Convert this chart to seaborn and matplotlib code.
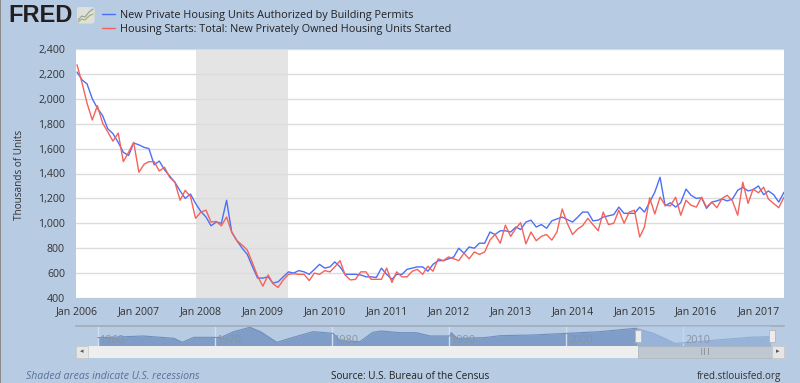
import pandas as pd
import numpy as np
import matplotlib
matplotlib.use('Agg')
import matplotlib.pyplot as plt
from matplotlib.lines import Line2D
from matplotlib.patches import Rectangle, FancyBboxPatch
import seaborn as sns

permits = [2215, 2150, 2120, 2000, 1925, 1865, 1760, 1720, 1650, 1570, 1545, 1645,
           1630, 1610, 1600, 1470, 1500, 1430, 1380, 1330, 1260, 1200, 1235, 1160,
           1095, 1050, 980, 1010, 1000, 1185, 930, 860, 800, 750, 650, 560,
           560, 570, 520, 530, 570, 610, 600, 620, 610, 590, 630, 670,
           640, 650, 690, 650, 590, 590, 590, 585, 570, 570, 565, 640,
           590, 550, 590, 590, 630, 640, 650, 650, 615, 670, 700, 700,
           715, 730, 800, 760, 810, 800, 840, 840, 930, 910, 940, 940,
           930, 970, 950, 1010, 1025, 970, 990, 960, 1020, 1035, 1050, 1030,
           1010, 1050, 1090, 1090, 1020, 1025, 1050, 1060, 1070, 1130, 1080, 1080,
           1080, 1130, 1090, 1170, 1250, 1370, 1140, 1165, 1130, 1165, 1275, 1225,
           1200, 1205, 1120, 1170, 1180, 1195, 1180, 1195, 1265, 1290, 1260, 1270,
           1300, 1230, 1260, 1230, 1170, 1250]
starts = [2273, 2120, 1965, 1830, 1945, 1805, 1735, 1660, 1725, 1495, 1570, 1650,
          1410, 1475, 1495, 1495, 1420, 1450, 1370, 1330, 1185, 1265, 1215, 1040,
          1090, 1105, 1010, 1015, 980, 1050, 930, 860, 825, 785, 680, 575,
          495, 585, 515, 485, 545, 590, 595, 590, 590, 540, 600, 590,
          620, 610, 650, 700, 585, 545, 550, 610, 610, 550, 550, 550,
          640, 525, 610, 570, 570, 615, 630, 590, 655, 615, 715, 700,
          730, 715, 700, 760, 715, 770, 750, 770, 865, 910, 840, 985,
          895, 960, 1005, 835, 930, 860, 895, 910, 865, 930, 1115, 1000,
          910, 955, 980, 1040, 990, 940, 1090, 990, 1000, 1105, 1000, 1090,
          1105, 890, 970, 1205, 1075, 1210, 1145, 1140, 1210, 1065, 1185, 1145,
          1130, 1210, 1130, 1170, 1125, 1200, 1225, 1180, 1065, 1330, 1160, 1275,
          1245, 1290, 1195, 1160, 1125, 1210]
permits_name = 'New Private Housing Units Authorized by Building Permits'
starts_name = 'Housing Starts: Total: New Privately Owned Housing Units Started'

y_ticks = [400, 600, 800, 1000, 1200, 1400, 1600, 1800, 2000, 2200, 2400]
x_years = list(range(2006, 2018))

nav_years = [1959.9, 1960.1, 1963.8, 1966.4, 1967.1, 1968.1, 1969.8, 1970.4, 1971.5, 1972.9,
             1973.8, 1975.2, 1976.6, 1978.3, 1980.0, 1980.6, 1982.3, 1983.4, 1984.1, 1985.7,
             1987.1, 1988.3, 1990.0, 1990.1, 1990.6, 1992.9, 1994.3, 1997.1, 2000.0, 2002.8,
             2005.9, 2007.4, 2008.5, 2009.2, 2010.2, 2012.8, 2015.6, 2017.4]
nav_values = [1275, 1275, 1450, 1205, 785, 1310, 1310, 1275, 1905, 2360,
              1905, 785, 1310, 1905, 1730, 960, 855, 1835, 1975, 1800,
              1800, 1450, 1450, 1800, 1205, 1275, 1485, 1555, 1730, 1905,
              2255, 1730, 1100, 680, 750, 1030, 1310, 1380]
nav_labels = [1960, 1970, 1980, 1990, 2000, 2010]

W, H = 800, 383
BG = '#b7cbe3'


def box(x0, y0, x1, y1):
    # pixel box (top-left origin) -> figure fractions
    return [x0 / W, 1 - y1 / H, (x1 - x0) / W, (y1 - y0) / H]


def fig_text(x, y, s, **kw):
    fig.text(x / W, 1 - y / H, s, **kw)


def fig_rect(x0, y0, x1, y1, **kw):
    fig.add_artist(Rectangle((x0 / W, 1 - y1 / H), (x1 - x0) / W, (y1 - y0) / H,
                             transform=fig.transFigure, **kw))


def fig_line(xs, ys, **kw):
    fig.add_artist(Line2D([x / W for x in xs], [1 - y / H for y in ys],
                          transform=fig.transFigure, **kw))


sns.set_theme(style='white')
plt.rcParams['font.family'] = ['Open Sans', 'DejaVu Sans']

dates = pd.date_range('2006-01-01', periods=len(permits), freq='MS')
df = pd.DataFrame({'date': dates, permits_name: permits, starts_name: starts})
long_df = df.melt('date', var_name='series', value_name='units')

fig = plt.figure(figsize=(8, 3.83), dpi=100, facecolor=BG)
ax = fig.add_axes(box(76, 49, 784, 298))

ax.axvspan(pd.Timestamp('2007-12-01'), pd.Timestamp('2009-06-01'), color='#e4e4e4', lw=0, zorder=0)
sns.lineplot(data=long_df, x='date', y='units', hue='series',
             hue_order=[permits_name, starts_name],
             palette=['#4d6ff5', '#f4625b'], linewidth=1.0, ax=ax, legend=True)

ax.set_xlim(pd.Timestamp('2005-12-26'), pd.Timestamp('2017-06-01'))
ax.set_ylim(400, 2400)
ax.set_yticks(y_ticks)
ax.set_yticklabels([f'{v:,}' for v in y_ticks], fontsize=7.6, color='#333333')
ax.set_xticks([pd.Timestamp(f'{y}-01-01') for y in x_years])
ax.set_xticklabels([f'Jan {y}' for y in x_years], fontsize=7.6, color='#333333')
ax.tick_params(axis='y', length=0, pad=8)
ax.tick_params(axis='x', length=0, pad=6)
ax.grid(axis='y', color='#dcdcdc', lw=1)
ax.set_axisbelow(True)
for s in ax.spines.values():
    s.set_visible(False)
ax.set_xlabel('')
ax.set_ylabel('')
fig_text(20, 175, 'Thousands of Units', rotation=90, fontsize=7.2, color='#333333', ha='center', va='center')

handles, labels = ax.get_legend_handles_labels()
ax.legend(handles, labels, loc='upper left', bbox_to_anchor=(102 / W, 1 - 10 / H),
          bbox_transform=fig.transFigure, frameon=False, fontsize=7.8, ncol=1,
          handlelength=1.22, handletextpad=0.47, labelspacing=0.26, borderpad=0, borderaxespad=0,
          labelcolor='#222222')

# navigator
nav = fig.add_axes(box(76, 325.5, 784, 346))
nav.patch.set_alpha(0)
nav_df = pd.DataFrame({'year': nav_years, 'value': nav_values})
sns.lineplot(data=nav_df, x='year', y='value', color='#6f8fbb', linewidth=0.8, ax=nav)
nav.fill_between(nav_years, nav_values, 0, color='#7f9dc6', lw=0)
nav.axvspan(2006.0, 2017.4, color='#b7cfee', alpha=0.45, lw=0, zorder=3)
nav.set_xlim(1958.03, 2018.55)
nav.set_ylim(400, 2552)
for y in nav_labels:
    nav.axvline(y - 0.1, color='#d3dfee', lw=1, zorder=1.5)
    nav.text(y + 0.1, 440, str(y), color='#8a94a3', fontsize=7.8, va='bottom', ha='left', zorder=4)
nav.set_xticks([])
nav.set_yticks([])
nav.set_xlabel('')
nav.set_ylabel('')
for s in nav.spines.values():
    s.set_visible(False)
nav.spines['top'].set_visible(True)
nav.spines['top'].set_color('#a3aebb')

# scrollbar
fig_rect(88, 346, 638, 358, color='#eeeeee', lw=0)
fig_rect(638, 346, 772, 358, facecolor='#bfc8d1', edgecolor='#aeb7c0', lw=0.5)
fig_rect(76, 346, 88, 358, facecolor='#e6e6e6', edgecolor='#c6c6c6', lw=0.5)
fig_rect(772, 346, 784, 358, facecolor='#e6e6e6', edgecolor='#c6c6c6', lw=0.5)
fig_text(82, 352, '◂', fontsize=5, color='#555555', ha='center', va='center')
fig_text(778, 352, '▸', fontsize=5, color='#555555', ha='center', va='center')
fig_text(705, 351.5, '|||', fontsize=5, color='#666666', ha='center', va='center')
for hx in (638, 772):
    fig_rect(hx - 3, 329.5, hx + 3, 341.5, facecolor='#ececec', edgecolor='#b5b5b5', lw=0.6, zorder=5)

# footer, logo
fig_text(26, 376.5, 'Shaded areas indicate U.S. recessions', fontsize=7.6, style='italic',
         color='#58719e', va='center')
fig_text(331, 376.5, 'Source: U.S. Bureau of the Census', fontsize=7.2, color='#222222', va='center')
fig_text(781, 376.5, 'fred.stlouisfed.org', fontsize=7.1, color='#333333', va='center', ha='right')
fig_text(8.5, 15.5, 'FRED', fontsize=17, fontweight='bold', family=['Liberation Sans', 'DejaVu Sans'],
         color='#231f20', va='center')
fig.add_artist(FancyBboxPatch((77 / W, 1 - 23.5 / H), 17.5 / W, 16.5 / H, transform=fig.transFigure,
                              boxstyle='round,pad=0,rounding_size=0.004', facecolor='#dfe1d8',
                              edgecolor='none'))
fig_line([78, 82, 85, 89, 93], [20, 16, 17, 12, 9], color='#8f9ea8', lw=0.8)
fig_line([78, 82, 85, 89, 93], [22, 19, 20, 16, 14], color='#a3ad5a', lw=0.8)
fig_rect(0, 0, 1, 383, color='#8a8a8a', lw=0)

fig.savefig('out.png', dpi=100, facecolor=BG)
